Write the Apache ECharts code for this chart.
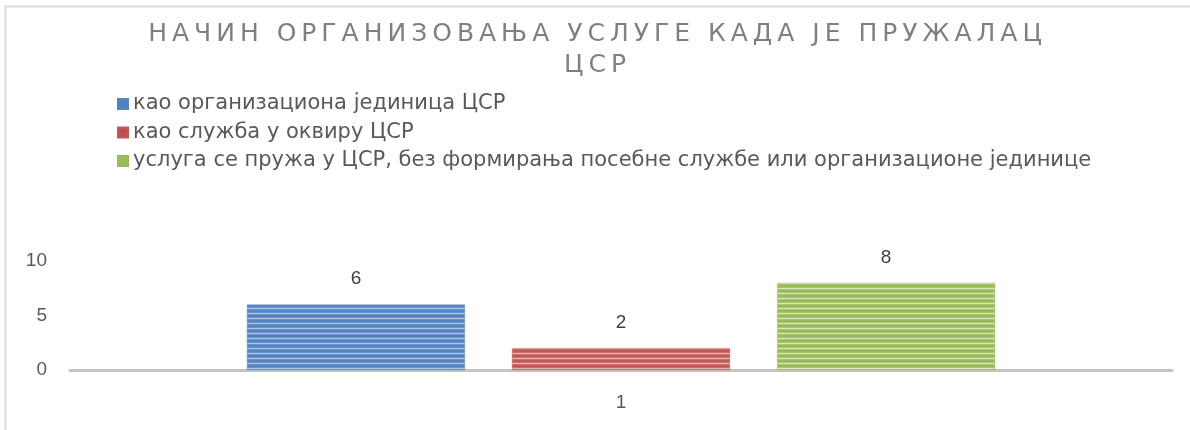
<!DOCTYPE html>
<html><head><meta charset="utf-8">
<script src="https://cdn.jsdelivr.net/npm/echarts@6/dist/echarts.min.js"></script>
<style>html,body{margin:0;padding:0;background:#fff}#c{width:1190px;height:430px}</style>
</head><body><div id="c"></div>
<script>
const titleLines = ['НАЧИН ОРГАНИЗОВАЊА УСЛУГЕ КАДА ЈЕ ПРУЖАЛАЦ', 'ЦСР'];
const categories = ['1'];
const seriesNames = ['као организациона јединица ЦСР', 'као служба у оквиру ЦСР', 'услуга се пружа у ЦСР, без формирања посебне службе или организационе јединице'];
const seriesValues = [[6], [2], [8]];
const yTicks = [0, 5, 10];
const palette = [
  {base:'#6893ca', dark:'#5584c0', light:'#afc6e5', solid:'#4f81bd'},
  {base:'#cb6d6a', dark:'#c05a57', light:'#e7b6b4', solid:'#c0504d'},
  {base:'#a9c66f', dark:'#98b95c', light:'#d7e7b8', solid:'#9bbb59'}
];
function stripes(p){
  const c=document.createElement('canvas'); c.width=4; c.height=5;
  const x=c.getContext('2d');
  x.fillStyle=p.base; x.fillRect(0,0,4,5);
  x.fillStyle=p.dark; x.fillRect(0,0,4,2);
  x.fillStyle=p.light; x.fillRect(0,3,4,1);
  return c;
}
function spaced(s){ return s.split(' ').map(w=>w.split('').join('\u2009')).join('\u2009 \u2009'); }
const chart = echarts.init(document.getElementById('c'), null, {renderer:'canvas'});
chart.setOption({
  animation:false,
  backgroundColor:'#fff',
  graphic:[{type:'polyline', shape:{points:[[5.5,440],[5.5,6.5],[1200,6.5]]}, style:{fill:'none', stroke:'#d9d9d9', lineWidth:2}, silent:true, z:-1}],
  title:{
    text: titleLines.map(spaced).join('\n'),
    left:'center', top:14,
    textStyle:{fontFamily:'DejaVu Sans', fontWeight:'normal', fontSize:25, color:'#7f7f7f', lineHeight:31}
  },
  legend:{
    orient:'vertical', left:112, top:88, itemWidth:10, itemHeight:10, itemGap:6.5,
    icon:'rect', selectedMode:false,
    textStyle:{fontFamily:'DejaVu Sans', fontSize:21, color:'#595959', lineHeight:22, padding:[0,0,0,0]},
    data: seriesNames.map((n,i)=>({name:n, itemStyle:{color:palette[i].solid}}))
  },
  grid:{left:70, right:18, top:261, bottom:60, containLabel:false},
  xAxis:{
    type:'category', data:categories,
    axisLine:{lineStyle:{color:'#c4c4c4', width:3}},
    axisTick:{show:false},
    axisLabel:{fontFamily:'Liberation Sans', fontSize:19, color:'#595959', margin:23}
  },
  yAxis:{
    type:'value', min:yTicks[0], max:yTicks[yTicks.length-1], interval:5,
    axisLine:{show:false}, axisTick:{show:false}, splitLine:{show:false},
    axisLabel:{fontFamily:'Liberation Sans', fontSize:19, color:'#595959', margin:23}
  },
  series: seriesNames.map((n,i)=>({
    name:n, type:'bar', data:seriesValues[i],
    barWidth:218, barGap:'21.6%',
    itemStyle:{color:{image:stripes(palette[i]), repeat:'repeat'}, borderColor:palette[i].dark, borderWidth:0.5},
    label:{show:true, position:'top', distance:16, fontFamily:'Liberation Sans', fontSize:19, color:'#404040'}
  }))
});
</script></body></html>
